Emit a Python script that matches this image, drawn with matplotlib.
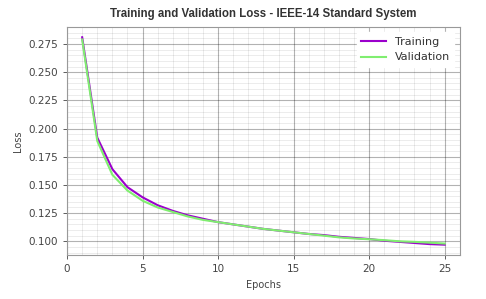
import matplotlib
matplotlib.use("Agg")
import matplotlib.pyplot as plt
from matplotlib.ticker import MultipleLocator

epochs = list(range(1, 26))
train_loss = [0.281, 0.192, 0.164, 0.148, 0.139, 0.132, 0.127, 0.123, 0.120, 0.117,
              0.115, 0.113, 0.111, 0.1095, 0.108, 0.1065, 0.1055, 0.104, 0.103, 0.102,
              0.1005, 0.0995, 0.0985, 0.0975, 0.097]
val_loss = [0.279, 0.189, 0.159, 0.145, 0.136, 0.130, 0.126, 0.122, 0.119, 0.117,
            0.115, 0.113, 0.111, 0.1095, 0.108, 0.1065, 0.105, 0.1035, 0.1025, 0.1018,
            0.101, 0.100, 0.0995, 0.0988, 0.098]

fig = plt.figure(figsize=(4.86, 2.99), dpi=100)
ax = fig.add_axes([0.138, 0.147, 0.808, 0.763])

ax.plot(epochs, train_loss, color='#9b00cc', lw=1.5, label='Training')
ax.plot(epochs, val_loss, color='#80ee70', lw=1.5, label='Validation')

ax.set_xlim(0, 26)
ax.xaxis.set_major_locator(MultipleLocator(5))
ax.xaxis.set_minor_locator(MultipleLocator(1))
ax.yaxis.set_major_locator(MultipleLocator(0.025))
ax.yaxis.set_minor_locator(MultipleLocator(0.005))
ax.grid(which='major', color='black', alpha=0.3, lw=0.8)
ax.grid(which='minor', color='black', alpha=0.09, lw=0.6)
ax.set_axisbelow(True)

ax.tick_params(labelsize=7.5, colors='#444444', length=3, width=0.6)
ax.tick_params(which='minor', length=0)
for s in ax.spines.values():
    s.set_color('#999999')
    s.set_linewidth(0.8)

ax.set_title('Training and Validation Loss - IEEE-14 Standard System',
             fontsize=8.3, fontweight='bold', family='Liberation Sans', color='#333333', pad=7)
ax.set_xlabel('Epochs', fontsize=7, color='#444444')
ax.set_ylabel('Loss', fontsize=7, color='#444444')

leg = ax.legend(loc='upper right', fontsize=8, frameon=True, fancybox=False,
                framealpha=1, edgecolor='white', handlelength=2.2)
for t in leg.get_texts():
    t.set_color('#333333')

fig.savefig('out.png', dpi=100)
